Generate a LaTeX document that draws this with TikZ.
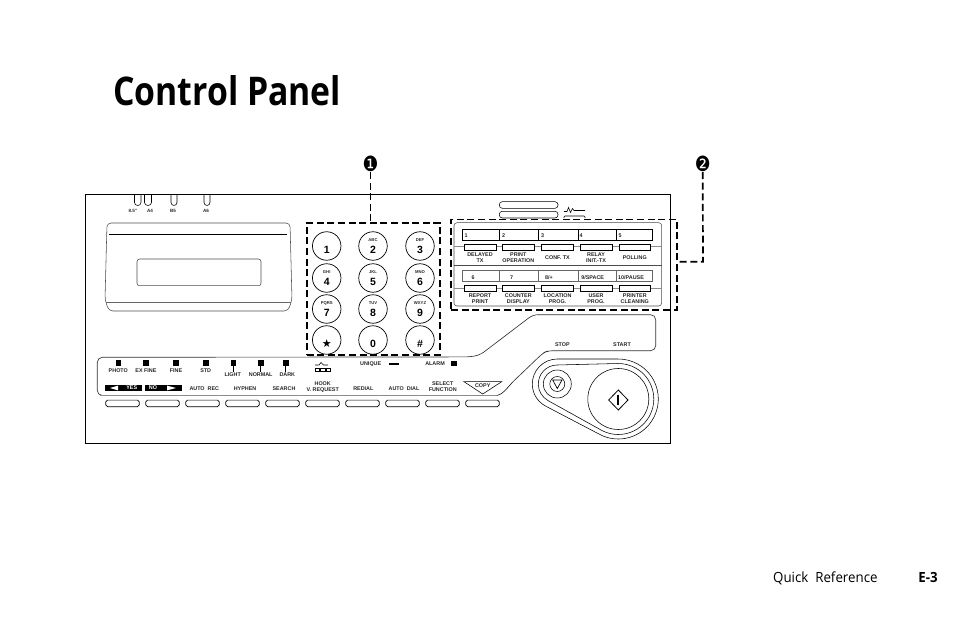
\documentclass[tikz,border=0pt]{standalone}
\usepackage{fontspec}
\setmainfont{Liberation Sans}
\newfontfamily\titlefont[BoldFeatures={FakeStretch=0.855}]{Open Sans}
\newfontfamily\footfont[FakeStretch=0.95]{Open Sans}
\newfontfamily\dingfont[FakeStretch=0.84]{DejaVu Sans}
\newfontfamily\starfont{DejaVu Sans}
\usetikzlibrary{positioning,calc}

\tikzset{
  thinline/.style={line width=0.55pt},
  grayline/.style={line width=0.7pt, color=black!45},
  dashline/.style={line width=1.7pt, dash pattern=on 7pt off 3.6pt},
  dashbox/.style={draw, dashline, minimum width=#1, inner sep=0pt},
  small/.style={font=\fontsize{5.4}{5.8}\selectfont\bfseries, align=center, inner sep=0pt, text=black!85},
  softkey/.style={draw, line width=0.65pt, rounded corners=1.8pt, minimum width=33.5pt, minimum height=6.6pt, inner sep=0pt},
  funckey/.style={draw, line width=0.7pt, minimum width=31.8pt, minimum height=6.2pt, inner sep=0pt},
  keycircle/.style={draw, circle, line width=0.7pt, minimum size=28.5pt, inner sep=0pt},
  lamp/.style={fill=black, minimum size=5.6pt, inner sep=0pt},
  bullet/.style={font=\fontsize{21}{21}\selectfont\dingfont, inner sep=0pt}
}

\begin{document}
\begin{tikzpicture}[x=1pt,y=-1pt]
\useasboundingbox (0,0) rectangle (954,618);

% Title and footer
\node (title) at (113,106) [anchor=base west, inner sep=0pt, font=\fontsize{39.5}{39.5}\selectfont\titlefont\bfseries] {Control Panel};
\node (quick) at (773,582) [anchor=base west, inner sep=0pt, font=\fontsize{14}{14}\selectfont\footfont] {Quick\ \ Reference};
\node (page) at (938,582) [anchor=base east, inner sep=0pt, font=\fontsize{14}{14}\selectfont\footfont\bfseries] {E-3};

% Frame
\draw [line width=0.9pt] (85,194.5) rectangle (670,443);

% Paper size tabs
\foreach \n/\x/\w/\t/\lx in {a/134.5/6.5/8.5"/133, b/144.5/7/A4/150, c/171/6/B5/173, d/204/6/A6/206}{
  \draw [thinline] (\x,194.5) -- (\x,202.5) arc (180:0:\w/2 and 3) -- (\x+\w,194.5);
  \node (tab\n) at (\lx,211) [small, font=\fontsize{4.6}{5}\selectfont\bfseries] {\t};
}

% Display
\draw [thinline, color=black!70, rounded corners=4pt] (107,223) -- (290,223) -- (292,300) -- (288,311) -- (109,311) -- (105,300) -- cycle;
\draw [line width=0.8pt] (109,234.3) -- (287,234.3);
\draw [thinline, color=black!60] (106,302) -- (291,302);
\draw [thinline, color=black!70, rounded corners=2.5pt] (137,259) rectangle (261,285.7);

% Keypad
\foreach \n/\x/\y/\d/\t in {1/326.7/246/1/, 2/373/246/2/ABC, 3/420/246/3/DEF, 4/326.7/278/4/GHI, 5/373/278/5/JKL, 6/420/278/6/MNO, 7/326.7/309/7/PQRS, 8/373/309/8/TUV, 9/420/309/9/WXYZ, 10/326.7/340/{\starfont\fontsize{11}{11}\selectfont ★}/, 11/373/340/0/, 12/420/340/\#/}{
  \node (key\n) at (\x,\y) [keycircle] {};
  \node (digit\n) at (\x,\y+3.8) [inner sep=0pt, font=\fontsize{10.5}{10.5}\selectfont\bfseries] {\d};
  \node (letters\n) at (\x,\y-5.5) [small, font=\fontsize{4.2}{5}\selectfont\bfseries] {\t};
}

% Function panel
\draw [thinline, color=black!70, rounded corners=3pt] (454,222.7) rectangle (661.7,306);
\draw [grayline] (454,246.7) -- (661.7,246.7);
\draw [grayline] (454,288) -- (661.7,288);
\draw [thinline, color=black!70] (454,265.7) -- (661.7,265.7);
\draw [line width=0.8pt] (462,229.3) rectangle (652.7,240.7);
\draw [line width=0.5pt, color=black!60] (462,270.3) rectangle (652.7,281.7);
\foreach \x in {499.3,538.3,578.3,616.3}{
  \draw [line width=0.7pt] (\x,229.3) -- (\x,240.7);
  \draw [line width=0.5pt, color=black!60] (\x,270.3) -- (\x,281.7);
}
\foreach \n/\x/\y/\t in {a/466/236/1, b/503.7/236/2, c/542.7/236/3, d/581/236/4, e/620/236/5, f/473/278/6, g/511.7/278/7, h/549/278/{8/+}, i/592.7/277.5/{9/SPACE}, j/631/277.5/{10/PAUSE}}{
  \node (fnum\n) at (\x,\y) [small] {\t};
}
\foreach \n/\x/\t/\u in {a/480/DELAYED\\TX/REPORT\\PRINT, b/518.3/PRINT\\OPERATION/COUNTER\\DISPLAY, c/557.5/CONF. TX/LOCATION\\PROG., d/596/RELAY\\INIT.-TX/USER\\PROG., e/634.8/POLLING/PRINTER\\CLEANING}{
  \node (fkeya\n) at (\x,247.3) [funckey, fill=white] {};
  \node (fkeyb\n) at (\x,288.5) [funckey, fill=white] {};
  \node (flabela\n) at (\x,258) [small] {\t};
  \node (flabelb\n) at (\x,299) [small] {\u};
}

% Slots at the top
\draw [thinline, rounded corners=3pt] (499.3,201.7) rectangle (558,208.3);
\draw [thinline, rounded corners=3pt] (499.3,211.3) rectangle (558,218);
\draw [thinline] (564,211.5) -- (567,211.5) -- (568.5,207.5) -- (570.5,212.5) -- (572.5,208.5) -- (574,210.5) -- (585,210.5);
\draw [thinline, rounded corners=1pt] (564,218) -- (564,216) -- (585,216) -- (585,218);

% Lower panel outline
\draw [line width=0.65pt, color=black!80, rounded corners=5pt] (513,381.7) -- (543,353) -- (548,350.7) -- (655.7,350.7) -- (655.7,314.7) -- (533,314.7) -- (480,355) -- (470,356.9) -- (97.3,357.3) -- (97.3,395.5) -- (110,395.5);
\draw [grayline] (100,395.5) -- (497,395.5);
\draw [thinline] (497,395.5) .. controls (503,394.5) and (507,388) .. (513,381.7);

% Lamps
\foreach \n/\x/\t in {a/118.3/PHOTO, b/146/EX FINE, c/176/FINE, d/205.7/STD}{
  \node (lamp\n) at (\x,362.7) [lamp] {};
  \node (lamplabel\n) at (\x,370.8) [small] {\t};
}
\foreach \n/\x/\lx/\t in {e/233.3/232.7/LIGHT, f/260.7/260.7/NORMAL, g/285.7/287.3/DARK}{
  \node (lamp\n) at (\x,362.7) [lamp] {};
  \node (lamplabel\n) at (\lx,375) [small] {\t};
  \draw [thinline] (lamp\n) -- (\x,372);
}

% Yes and no bars
\node (yesbar) at (123.3,388) [fill=black, minimum width=36.7pt, minimum height=6.6pt, inner sep=0pt] {};
\node (nobar) at (163.3,388) [fill=black, minimum width=36.7pt, minimum height=6.6pt, inner sep=0pt] {};
\node (yes) at (131.7,388) [small, text=white] {YES};
\node (no) at (153,388) [small, text=white] {NO};
\fill [white] (110,388) -- (118,385.6) -- (118,390.4) -- cycle;
\fill [white] (176,388) -- (167,385.6) -- (167,390.4) -- cycle;

% Labels over the soft keys
\foreach \n/\x/\y/\t in {a/204.3/389/AUTO\ \ REC, b/245/389/HYPHEN, c/284/389/SEARCH, d/322.7/387/HOOK\\V. REQUEST, e/363.3/389/REDIAL, f/404/389/AUTO\ \ DIAL, g/442.7/387/SELECT\\FUNCTION}{
  \node (softlabel\n) at (\x,\y) [small] {\t};
}
\draw [thinline] (464,381.7) -- (501.7,381.7) -- (482.7,394) -- cycle;
\node (copy) at (482.7,386) [small, fill=white, inner sep=0.5pt] {COPY};

% Soft keys
\foreach \n [count=\i from 0] in {a,b,c,d,e,f,g,h,i,j}{
  \node (softkey\n) at (122.5+40*\i,403.4) [softkey] {};
}

% Hook symbol, unique and alarm
\draw [thinline] (315,365) -- (319,365) -- (321,362.5) -- (323.5,365) -- (328,365);
\foreach \x in {315,320.5,326}
  \draw [line width=0.5pt] (\x,368) rectangle (\x+4.5,371.7);
\node (unique) at (370.7,363.7) [small] {UNIQUE};
\draw [line width=1.3pt] (389.3,364) -- (399.3,364);
\node (alarm) at (435,363.7) [small] {ALARM};
\node (alarmlamp) at (453.8,363.5) [lamp] {};

% Stop and start
\node (stop) at (562.3,345) [small] {STOP};
\node (start) at (622,345) [small] {START};

% r1=25, r2=40 outside; r1=19, r2=35.5 inside
\draw [thinline] (557.3,384) ++(-90.7:25) arc (-90.7:-241.7:25) -- ($(618.3,399)+(118.3:40)$) arc (118.3:-90.7:40) -- cycle;
\draw [thinline] (557.3,384) ++(-91.8:19) arc (-91.8:-240.6:19) -- ($(618.3,399)+(119.4:35.5)$) arc (119.4:-91.8:35.5) -- cycle;
\node (stopkey) at (557.3,384) [draw, circle, thinline, minimum size=28pt, inner sep=0pt] {};
\node (stoprim) at (557.3,384) [draw, circle, thinline, minimum size=15pt, inner sep=0pt] {};
\draw [line width=0.7pt] (552.7,380) -- (562,380) -- (557.3,388.5) -- cycle;
\node (startkey) at (618.3,399) [draw, circle, thinline, minimum size=61pt, inner sep=0pt] {};
\draw [line width=0.8pt] (608.7,400) -- (618.3,390) -- (628,400) -- (618.3,410) -- cycle;
\draw [line width=1.7pt] (618.3,394.5) -- (618.3,405);

% Callouts
\node (keybox) at (373.3,288.8) [dashbox=133.3pt, minimum height=132.2pt] {};
\node (panelbox) at (564,264.7) [dashbox=226pt, minimum height=90.7pt] {};
\node (one) at (370.5,164) [bullet] {❶};
\node (two) at (702.7,164) [bullet] {❷};
\coordinate (elbow) at (703,261.7);
\draw [dashline] (one.south) -- (one.south |- keybox.north);
\draw [dashline] (two.south) -- (elbow) -- (elbow -| panelbox.east);

\end{tikzpicture}
\end{document}
